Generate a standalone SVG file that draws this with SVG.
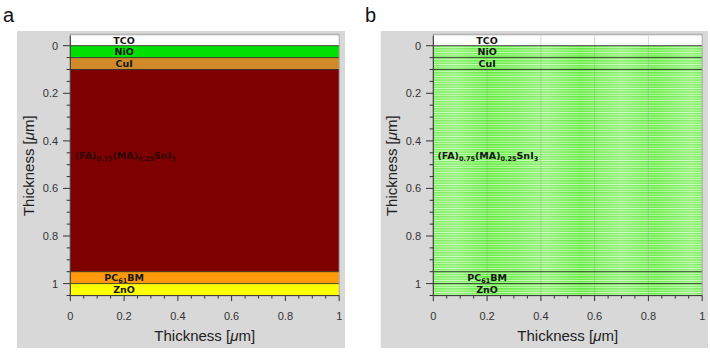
<svg xmlns="http://www.w3.org/2000/svg" xmlns:xlink="http://www.w3.org/1999/xlink" width="710" height="352" viewBox="0 0 710 352">
<style>
.panel{font-family:"Liberation Sans",Arial,sans-serif;font-size:20px;fill:#111}
.tick{font-family:"Liberation Sans",Arial,sans-serif;font-size:11px;fill:#333}
.title{font-family:"Liberation Sans",Arial,sans-serif;font-size:15px;fill:#222}
.lay{font-family:"DejaVu Sans",Verdana,sans-serif;font-size:9.5px;font-weight:bold;fill:#151515;text-anchor:middle}
.lay2{font-family:"DejaVu Sans",Verdana,sans-serif;font-size:9.5px;font-weight:bold;fill:#151515}
.sub{font-size:6.5px}
.bg{fill:#d8d8d8}
.ax{stroke:#333;stroke-width:1;fill:none}
.bd{stroke:#222;stroke-width:0.8;fill:none}
.frame{stroke:#a8a8a8;stroke-width:1;fill:none}
</style>
<defs>
<pattern id="mesh" x="0" y="45.7" width="20" height="2.4" patternUnits="userSpaceOnUse">
<rect width="20" height="2.4" fill="#62ec3e"/>
<rect y="1.5" width="20" height="0.9" fill="#bff6ae"/>
</pattern>
<linearGradient id="bands" gradientUnits="userSpaceOnUse" x1="433.3" y1="0" x2="702.2" y2="0">
<stop offset="0" stop-color="#fff" stop-opacity="0.15"/>
<stop offset="0.08" stop-color="#fff" stop-opacity="0.28"/>
<stop offset="0.2" stop-color="#fff" stop-opacity="0"/>
<stop offset="0.3" stop-color="#fff" stop-opacity="0.1"/>
<stop offset="0.42" stop-color="#fff" stop-opacity="0.28"/>
<stop offset="0.55" stop-color="#fff" stop-opacity="0"/>
<stop offset="0.7" stop-color="#fff" stop-opacity="0.28"/>
<stop offset="0.82" stop-color="#fff" stop-opacity="0.03"/>
<stop offset="0.96" stop-color="#fff" stop-opacity="0.28"/>
<stop offset="1" stop-color="#fff" stop-opacity="0.15"/>
</linearGradient>
<g id="axes">
<path class="ax" d="M70.3 35.7V295.6H339.2"/>
<path class="ax" d="M63 45.7h7.3M63 93.3h7.3M63 140.9h7.3M63 188.4h7.3M63 236h7.3M63 283.6h7.3"/>
<path class="ax" d="M66.6 57.6h3.7M66.6 69.5h3.7M66.6 81.4h3.7M66.6 105.2h3.7M66.6 117.1h3.7M66.6 128.9h3.7M66.6 152.8h3.7M66.6 164.7h3.7M66.6 176.6h3.7M66.6 200.3h3.7M66.6 212.2h3.7M66.6 224.1h3.7M66.6 247.9h3.7M66.6 259.8h3.7M66.6 271.7h3.7M66.6 295.5h3.7"/>
<path class="ax" d="M70.3 295.6v5.5M124.1 295.6v5.5M177.9 295.6v5.5M231.6 295.6v5.5M285.4 295.6v5.5M339.2 295.6v5.5"/>
<path class="ax" d="M83.7 295.6v3M97.2 295.6v3M110.6 295.6v3M137.5 295.6v3M150.9 295.6v3M164.4 295.6v3M191.3 295.6v3M204.7 295.6v3M218.2 295.6v3M245.1 295.6v3M258.5 295.6v3M271.9 295.6v3M298.8 295.6v3M312.3 295.6v3M325.7 295.6v3"/>
<g class="tick" text-anchor="end">
<text x="58" y="49.7">0</text>
<text x="58" y="97.3">0.2</text>
<text x="58" y="144.9">0.4</text>
<text x="58" y="192.4">0.6</text>
<text x="58" y="240">0.8</text>
<text x="58" y="287.6">1</text>
</g>
<g class="tick" text-anchor="middle">
<text x="70.3" y="320">0</text>
<text x="124.1" y="320">0.2</text>
<text x="177.9" y="320">0.4</text>
<text x="231.6" y="320">0.6</text>
<text x="285.4" y="320">0.8</text>
<text x="339.2" y="320">1</text>
</g>
<text class="title" x="204.7" y="341" text-anchor="middle">Thickness [<tspan font-style="italic">μ</tspan>m]</text>
<text class="title" transform="translate(34 165.7) rotate(-90)" text-anchor="middle">Thickness [<tspan font-style="italic">μ</tspan>m]</text>
</g>
</defs>

<g id="panel-a">
<text class="panel" x="3" y="22">a</text>
<rect class="bg" x="17" y="31" width="328" height="317"/>
<g id="a-layers">
<rect id="a-tco" x="70.3" y="35.7" width="268.9" height="10" fill="#ffffff"/>
<rect id="a-nio" x="70.3" y="45.7" width="268.9" height="11.9" fill="#00e000"/>
<rect id="a-cui" x="70.3" y="57.6" width="268.9" height="11.9" fill="#d08a28"/>
<rect id="a-abs" x="70.3" y="69.5" width="268.9" height="202.2" fill="#7f0000"/>
<rect id="a-pcbm" x="70.3" y="271.7" width="268.9" height="11.9" fill="#ff9a0a"/>
<rect id="a-zno" x="70.3" y="283.6" width="268.9" height="12" fill="#ffff00"/>
<path class="bd" d="M70.3 45.7H339.2M70.3 57.6H339.2M70.3 69.5H339.2M70.3 271.7H339.2M70.3 283.6H339.2"/>
<rect class="frame" x="70.3" y="34.2" width="268.9" height="261.4"/>
</g>
<g id="a-labels">
<text class="lay" x="124.1" y="44.2">TCO</text>
<text class="lay" x="124.1" y="55">NiO</text>
<text class="lay" x="124.1" y="67">CuI</text>
<text class="lay2" x="75" y="158.5" style="fill:#2e0505">(FA)<tspan class="sub" dy="2">0.75</tspan><tspan dy="-2">(MA)</tspan><tspan class="sub" dy="2">0.25</tspan><tspan dy="-2">SnI</tspan><tspan class="sub" dy="2">3</tspan></text>
<text class="lay" x="124.1" y="281">PC<tspan class="sub" dy="2">61</tspan><tspan dy="-2">BM</tspan></text>
<text class="lay" x="124.1" y="293">ZnO</text>
</g>
<use xlink:href="#axes" href="#axes"/>
</g>

<g id="panel-b">
<text class="panel" x="365" y="22">b</text>
<rect class="bg" x="380.7" y="31" width="327.3" height="317"/>
<g id="b-mesh">
<rect x="433.3" y="35.7" width="268.9" height="10" fill="#ffffff"/>
<rect x="433.3" y="45.7" width="268.9" height="249.9" fill="url(#mesh)"/>
<rect x="433.3" y="45.7" width="268.9" height="249.9" fill="url(#bands)"/>
<path d="M487.1 35.7V295.6M540.9 35.7V295.6M594.6 35.7V295.6M648.4 35.7V295.6" stroke="#8fb083" stroke-width="0.6" stroke-opacity="0.7" fill="none"/>
<path class="bd" d="M433.3 45.7H702.2M433.3 57.6H702.2M433.3 69.5H702.2M433.3 271.7H702.2M433.3 283.6H702.2"/>
<rect class="frame" x="433.3" y="34.2" width="268.9" height="261.4"/>
</g>
<g id="b-labels">
<text class="lay" x="487.1" y="44.2">TCO</text>
<text class="lay" x="487.1" y="55">NiO</text>
<text class="lay" x="487.1" y="67">CuI</text>
<text class="lay2" x="437.5" y="158.5">(FA)<tspan class="sub" dy="2">0.75</tspan><tspan dy="-2">(MA)</tspan><tspan class="sub" dy="2">0.25</tspan><tspan dy="-2">SnI</tspan><tspan class="sub" dy="2">3</tspan></text>
<text class="lay" x="487.1" y="281">PC<tspan class="sub" dy="2">61</tspan><tspan dy="-2">BM</tspan></text>
<text class="lay" x="487.1" y="293">ZnO</text>
</g>
<use xlink:href="#axes" href="#axes" transform="translate(363 0)"/>
</g>
</svg>
